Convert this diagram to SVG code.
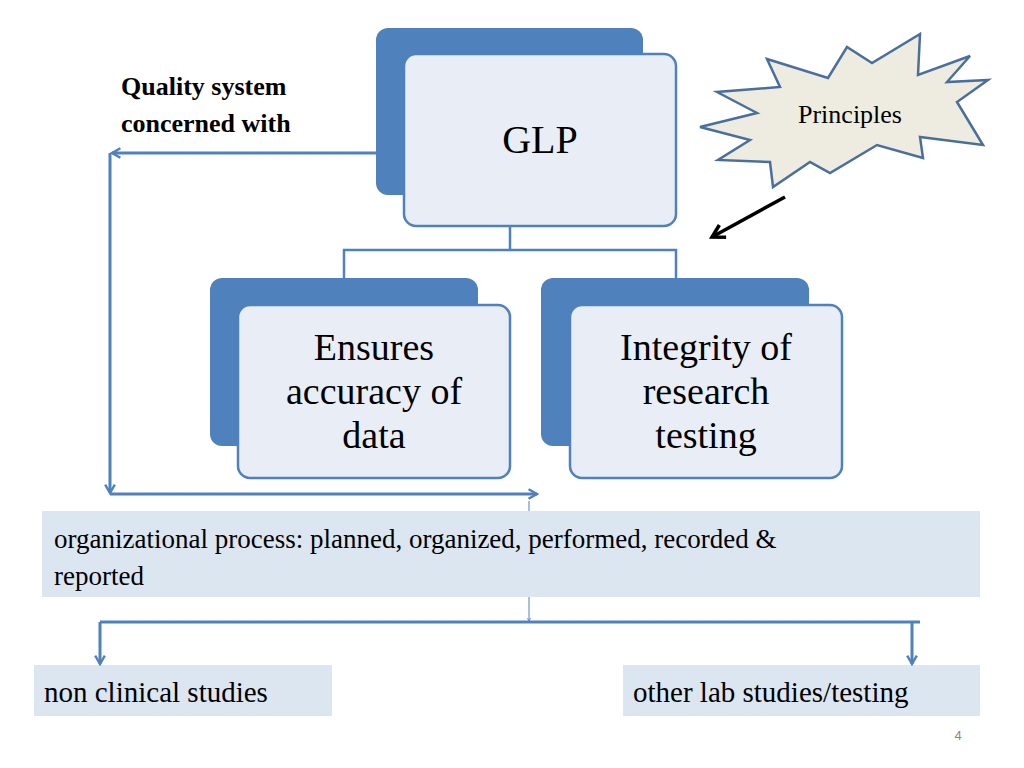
<svg xmlns="http://www.w3.org/2000/svg" width="1024" height="768" viewBox="0 0 1024 768">
<style>
.back{fill:#4f81bd}
.front{fill:#e9eef6;stroke:#4f81bd;stroke-width:2.5}
.t{font-family:"Liberation Serif",serif;fill:#000}
.c{stroke:#4f81bd;stroke-width:3;fill:none}
.band{fill:#dce6f1}
</style>
<defs>
<marker id="ah" viewBox="0 0 10 10" refX="8" refY="5" markerWidth="4" markerHeight="4" orient="auto"><path d="M1,1 L8,5 L1,9" fill="none" stroke="#4f81bd" stroke-width="2"/></marker>
<marker id="ahk" viewBox="0 0 10 10" refX="8" refY="5" markerWidth="5" markerHeight="5" orient="auto"><path d="M1,1 L8,5 L1,9" fill="none" stroke="#000" stroke-width="2"/></marker>
</defs>
<rect width="1024" height="768" fill="#fff"/>
<text class="t" x="121" y="95" font-size="26" font-weight="bold">Quality system</text>
<text class="t" x="121" y="132" font-size="26" font-weight="bold">concerned with</text>
<g id="glp">
<rect class="back" x="376" y="28" width="267" height="167" rx="12"/>
<rect class="front" x="404" y="54" width="272" height="172" rx="12"/>
<text class="t" x="540" y="153" font-size="40" text-anchor="middle">GLP</text>
</g>
<g id="principles">
<polygon points="767,59 828,78 847,47 872,63 920,34 918,75 970,56 947,82 988,80 957,102 983,145 920,137 923,158 877,145 830,173 810,162 773,187 770,162 718,160 750,140 700,127 757,113 717,92 780,87" fill="#eeece1" stroke="#4a6f9c" stroke-width="2.5"/>
<text class="t" x="850" y="123" font-size="26" text-anchor="middle">Principles</text>
</g>
<g id="ensures">
<rect class="back" x="210" y="278" width="268" height="168" rx="12"/>
<rect class="front" x="238" y="305" width="272" height="173" rx="12"/>
<text class="t" font-size="38" text-anchor="middle"><tspan x="374" y="360">Ensures</tspan><tspan x="374" y="404">accuracy of</tspan><tspan x="374" y="448">data</tspan></text>
</g>
<g id="integrity">
<rect class="back" x="541" y="278" width="268" height="168" rx="12"/>
<rect class="front" x="570" y="305" width="272" height="173" rx="12"/>
<text class="t" font-size="38" text-anchor="middle"><tspan x="706" y="360">Integrity of</tspan><tspan x="706" y="404">research</tspan><tspan x="706" y="448">testing</tspan></text>
</g>
<g id="process">
<rect class="band" x="42" y="511" width="938" height="86"/>
<text class="t" x="54" y="548" font-size="27">organizational process: planned, organized, performed, recorded &amp;</text>
<text class="t" x="54" y="585" font-size="27">reported</text>
</g>
<g id="nonclinical">
<rect class="band" x="34" y="665" width="298" height="51"/>
<text class="t" x="44" y="702" font-size="29">non clinical studies</text>
</g>
<g id="otherlab">
<rect class="band" x="623" y="665" width="357" height="51"/>
<text class="t" x="633" y="702" font-size="29">other lab studies/testing</text>
</g>
<text x="958" y="740" font-family="Liberation Sans,sans-serif" font-size="13" fill="#888" text-anchor="middle">4</text>
<g id="connectors">
<path d="M510,226 V250 M344,278 V250 H676 V278" stroke="#4f81bd" stroke-width="2.5" fill="none"/>
<line class="c" x1="376" y1="153" x2="112" y2="153" marker-end="url(#ah)"/>
<line class="c" x1="110" y1="153" x2="110" y2="493" marker-end="url(#ah)"/>
<line class="c" x1="110" y1="494" x2="537" y2="494" marker-end="url(#ah)"/>
<line x1="529" y1="501" x2="529" y2="511" stroke="#4f81bd" stroke-width="1"/>
<line x1="529" y1="597" x2="529" y2="621" stroke="#4f81bd" stroke-width="1" marker-end="url(#ah)"/>
<path class="c" d="M100,622 H920"/>
<line class="c" x1="100" y1="622" x2="100" y2="664" marker-end="url(#ah)"/>
<line class="c" x1="912" y1="622" x2="912" y2="664" marker-end="url(#ah)"/>
<line x1="785" y1="197" x2="712" y2="237" stroke="#000" stroke-width="3.5" marker-end="url(#ahk)"/>
</g>
</svg>
